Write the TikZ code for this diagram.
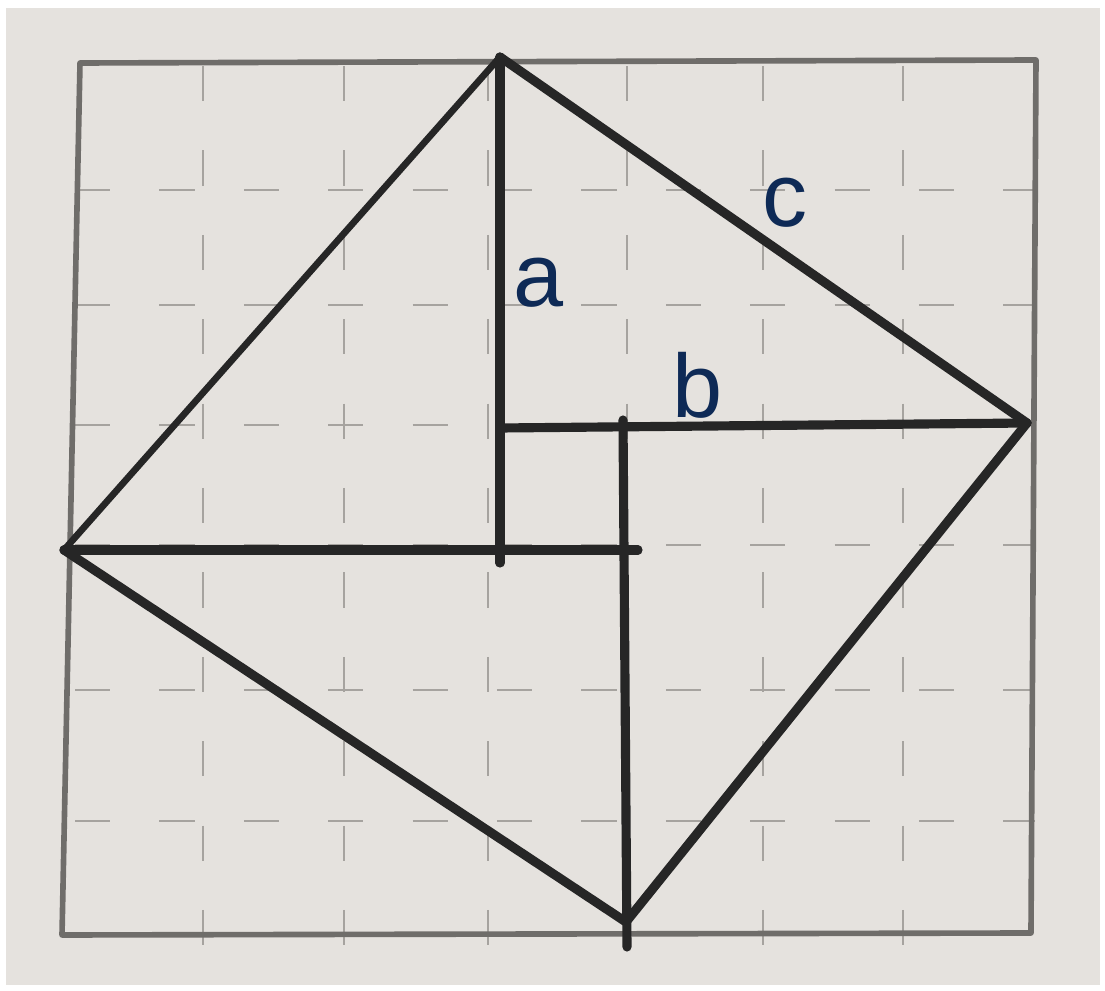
\documentclass[tikz,border=0pt]{standalone}
\usepackage{fontspec}
\setmainfont{Liberation Sans}
\usepackage{xcolor}
\usetikzlibrary{calc}
\definecolor{paperbg}{HTML}{E5E2DE}
\definecolor{gridgray}{HTML}{A6A39F}
\definecolor{framegray}{HTML}{6F6D6A}
\definecolor{inkblack}{HTML}{262626}
\definecolor{labelnavy}{HTML}{0E2A56}
\tikzset{
  gridline/.style={draw=gridgray, line width=0.8pt, dash pattern=on 10pt off 14pt},
  frameline/.style={draw=framegray, line width=1.6pt, line join=round},
  proofline/.style={draw=inkblack, line width=2.6pt, line cap=round},
  thinproof/.style={draw=inkblack, line width=1.9pt, line cap=round},
  sidelabel/.style={text=labelnavy, font=\fontsize{25.6}{30}\selectfont, inner sep=0pt, anchor=base}
}
\begin{document}
\begin{tikzpicture}[x=0.01cm, y=-0.01cm]
  \useasboundingbox (0,0) rectangle (1105,991);
  \fill[white] (0,0) rectangle (1105,991);
  \fill[paperbg] (6,8) rectangle (1100,985);
  % dashed grid of the paper
  \foreach \gx in {203,344,488,627,763,903}
    \draw[gridline] (\gx,66) -- (\gx,962);
  \foreach \gy in {190,305,425,545,690,821}
    \draw[gridline] (75,\gy) -- (1035,\gy);
  % outer square
  \coordinate (tl) at (80,63);
  \coordinate (tr) at (1036,60);
  \coordinate (br) at (1031,933);
  \coordinate (bl) at (62,935);
  \draw[frameline] (tl) -- (tr) -- (br) -- (bl) -- cycle;
  % vertices of the tilted square
  \coordinate (top) at (500,57);
  \coordinate (right) at (1027,423);
  \coordinate (bottom) at (626,922);
  \coordinate (left) at (64,550);
  % feet of the inner lines
  \coordinate (afoot) at (500,563);
  \coordinate (acorner) at (500,428);
  \coordinate (bstart) at (623,420);
  \coordinate (bfoot) at (627,947);
  \coordinate (lend) at (638,550);
  \draw[proofline] (top) -- (right);
  \draw[proofline] (right) -- (bottom);
  \draw[proofline] (bottom) -- (left);
  \draw[thinproof] (left) -- (top);
  \draw[proofline] (top) -- (afoot);
  \draw[proofline] (acorner) -- (right);
  \draw[proofline] (bstart) -- (bfoot);
  \draw[proofline] (left) -- (lend);
  % side labels
  \node[sidelabel] (la) at (539,307) {a};
  \node[sidelabel] (lb) at (698,418) {b};
  \node[sidelabel] (lc) at (785,227) {c};
\end{tikzpicture}
\end{document}
